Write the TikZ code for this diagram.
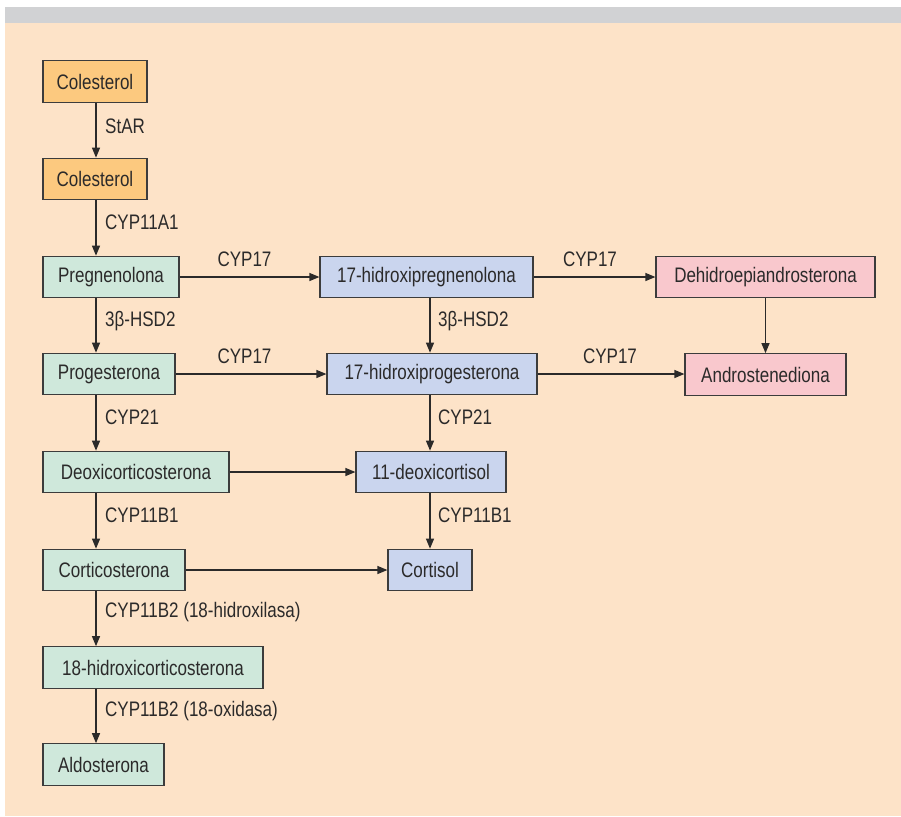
\documentclass[tikz,border=0pt]{standalone}
\usepackage{fontspec}
\setmainfont[FakeStretch=0.81]{Liberation Sans}
\usetikzlibrary{arrows.meta}
\definecolor{bgpeach}{HTML}{FDE3C8}
\definecolor{bargrey}{HTML}{D1D2D4}
\definecolor{orangebox}{HTML}{FCC97F}
\definecolor{greenbox}{HTML}{CFE8DB}
\definecolor{bluebox}{HTML}{CAD5EE}
\definecolor{pinkbox}{HTML}{F9C8CD}
\definecolor{ink}{HTML}{2B2A2A}
\definecolor{edge}{HTML}{3C3C3C}
\tikzset{
  box/.style={draw=edge, line width=1.2pt, minimum height=41.5pt, inner sep=0pt, text=ink, font=\fontsize{21}{25}\selectfont},
  obox/.style={box, fill=orangebox},
  gbox/.style={box, fill=greenbox},
  bbox/.style={box, fill=bluebox},
  pbox/.style={box, fill=pinkbox},
  arr/.style={draw=ink, line width=1.2pt, -{Triangle[length=10pt,width=8pt]}},
  lab/.style={text=ink, inner sep=0pt, font=\fontsize{21}{25}\selectfont},
  vlab/.style={lab, anchor=west}
}
\begin{document}
\begin{tikzpicture}[x=1pt,y=-1pt]
\useasboundingbox (0,0) rectangle (901,816);
\fill[white] (0,0) rectangle (901,816);
\fill[bargrey] (5,7) rectangle (901,23);
\fill[bgpeach] (5,23) rectangle (901,816);

\coordinate (L) at (96,0);
\coordinate (M) at (430,0);

% nodes
\node[obox, minimum width=104pt] (c1) at (95,81.5) {Colesterol};
\node[obox, minimum width=104pt] (c2) at (95,179) {Colesterol};
\node[gbox, minimum width=136pt] (preg) at (111,277) {Pregnenolona};
\node[bbox, minimum width=213pt] (ohpreg) at (426.5,277) {17-hidroxipregnenolona};
\node[pbox, minimum width=219pt] (dhea) at (765.5,277) {Dehidroepiandrosterona};
\node[gbox, minimum width=132pt] (prog) at (109,374) {Progesterona};
\node[bbox, minimum width=210pt] (ohp) at (432,374) {17-hidroxiprogesterona};
\node[pbox, minimum width=161pt] (andro) at (765.5,374.5) {Androstenediona};
\node[gbox, minimum width=186pt] (doc) at (136,472) {Deoxicorticosterona};
\node[bbox, minimum width=150pt] (dox) at (431,472) {11-deoxicortisol};
\node[gbox, minimum width=142pt] (cort) at (114,570) {Corticosterona};
\node[bbox, minimum width=84pt] (cortisol) at (430,570) {Cortisol};
\node[gbox, minimum width=220pt] (hcort) at (153,667.5) {18-hidroxicorticosterona};
\node[gbox, minimum width=121pt] (aldo) at (103.5,764.5) {Aldosterona};

% vertical arrows left column
\draw[arr] (c1.south -| L) -- (c2.north -| L);
\draw[arr] (c2.south -| L) -- (preg.north -| L);
\draw[arr] (preg.south -| L) -- (prog.north -| L);
\draw[arr] (prog.south -| L) -- (doc.north -| L);
\draw[arr] (doc.south -| L) -- (cort.north -| L);
\draw[arr] (cort.south -| L) -- (hcort.north -| L);
\draw[arr] (hcort.south -| L) -- (aldo.north -| L);
% middle column
\draw[arr] (ohpreg.south -| M) -- (ohp.north -| M);
\draw[arr] (ohp.south -| M) -- (dox.north -| M);
\draw[arr] (dox.south -| M) -- (cortisol.north -| M);
% right column
\draw[arr] (dhea.south) -- (andro.north);
% horizontal arrows
\draw[arr] (preg.east) -- (ohpreg.west);
\draw[arr] (ohpreg.east) -- (dhea.west);
\draw[arr] (prog.east) -- (prog.east -| ohp.west);
\draw[arr] (ohp.east) -- (ohp.east -| andro.west);
\draw[arr] (doc.east) -- (dox.west);
\draw[arr] (cort.east) -- (cortisol.west);

% labels
\node[vlab] (l1) at (105,126) {StAR};
\node[vlab] (l2) at (105,222) {CYP11A1};
\node[vlab] (l3) at (105,321) {3β-HSD2};
\node[vlab] (l4) at (105,417) {CYP21};
\node[vlab] (l5) at (105,515) {CYP11B1};
\node[vlab] (l6) at (105,612) {CYP11B2 (18-hidroxilasa)};
\node[vlab] (l7) at (105,711) {CYP11B2 (18-oxidasa)};
\node[vlab] (m1) at (438,321) {3β-HSD2};
\node[vlab] (m2) at (438,417) {CYP21};
\node[vlab] (m3) at (438,515) {CYP11B1};
\node[lab] (h1) at (244.5,259) {CYP17};
\node[lab] (h2) at (590,259) {CYP17};
\node[lab] (h3) at (244.5,356) {CYP17};
\node[lab] (h4) at (610,356) {CYP17};
\end{tikzpicture}
\end{document}
